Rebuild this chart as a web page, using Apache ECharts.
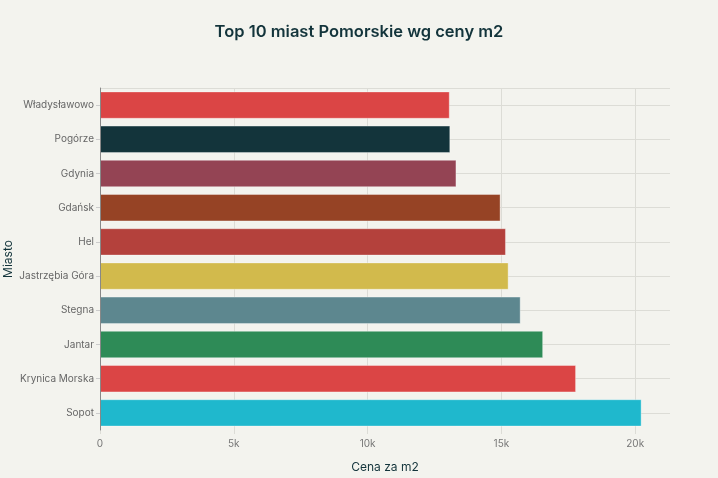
<!DOCTYPE html>
<html>
<head>
<meta charset="utf-8">
<script src="https://cdn.jsdelivr.net/npm/echarts@6/dist/echarts.min.js"></script>
<style>
html,body{margin:0;padding:0;background:#F3F3EE;}
#c{width:718px;height:478px;}
</style>
</head>
<body>
<div id="c"></div>
<script>
var titleText = 'Top 10 miast Pomorskie wg ceny m2';
var cities = ['Sopot','Krynica Morska','Jantar','Stegna','Jastrzębia Góra','Hel','Gdańsk','Gdynia','Pogórze','Władysławowo'];
var prices = [20240, 17790, 16560, 15720, 15270, 15170, 14970, 13320, 13090, 13070];
var colors = ['#1FB8CD','#DB4545','#2E8B57','#5D878F','#D2BA4C','#B4413C','#964325','#944454','#13343B','#DB4545'];
var xTitle = 'Cena za m2';
var yTitle = 'Miasto';

var font = 'Inter, "Noto Sans", sans-serif';
var halfSlots = [];
cities.forEach(function(){ halfSlots.push(''); halfSlots.push(''); });

var chart = echarts.init(document.getElementById('c'));
chart.setOption({
  backgroundColor: '#F3F3EE',
  animation: false,
  title: {
    text: titleText, left: 'center', top: 19,
    textStyle: {fontFamily: font, fontSize: 16.5, fontWeight: 600, color: '#13343B'}
  },
  grid: {left: 100, right: 48, top: 88, bottom: 48, containLabel: false, outerBoundsMode: 'none'},
  xAxis: {
    type: 'value', min: 0, max: 21300, interval: 5000,
    name: xTitle, nameLocation: 'middle', nameGap: 31,
    nameTextStyle: {fontFamily: font, fontSize: 12, color: '#13343B'},
    axisLine: {show: false},
    axisTick: {show: true, length: 4, lineStyle: {color: '#DCDCD6'}},
    axisLabel: {fontFamily: font, fontSize: 10, color: '#777', margin: 9, showMaxLabel: false,
      formatter: function(v){ return v === 0 ? '0' : (v/1000) + 'k'; }},
    splitLine: {show: true, showMaxLine: false, lineStyle: {color: '#DCDCD6', width: 1}}
  },
  yAxis: [{
    type: 'category', data: cities,
    name: yTitle, nameLocation: 'middle', nameGap: 86, nameRotate: 90, nameMoveOverlap: false,
    nameTextStyle: {fontFamily: font, fontSize: 12, color: '#13343B'},
    axisLine: {show: true, lineStyle: {color: '#888', width: 1}},
    axisTick: {show: true, alignWithLabel: true, length: 4, lineStyle: {color: '#CCC'}},
    axisLabel: {fontFamily: font, fontSize: 10, color: '#666', margin: 6},
    splitLine: {show: false},
    z: 3
  }, {
    type: 'category', data: halfSlots, position: 'left',
    axisLine: {show: false}, axisTick: {show: false}, axisLabel: {show: false},
    splitLine: {show: true, interval: function(i){ return i % 2 === 1; }, lineStyle: {color: '#DCDCD6'}}
  }],
  series: [{
    type: 'bar',
    yAxisIndex: 0,
    barCategoryGap: '20%',
    data: prices.map(function(v, i){
      return {value: v, itemStyle: {color: colors[i], borderColor: 'rgba(255,255,255,0.35)', borderWidth: 1}};
    })
  }]
});
</script>
</body>
</html>
